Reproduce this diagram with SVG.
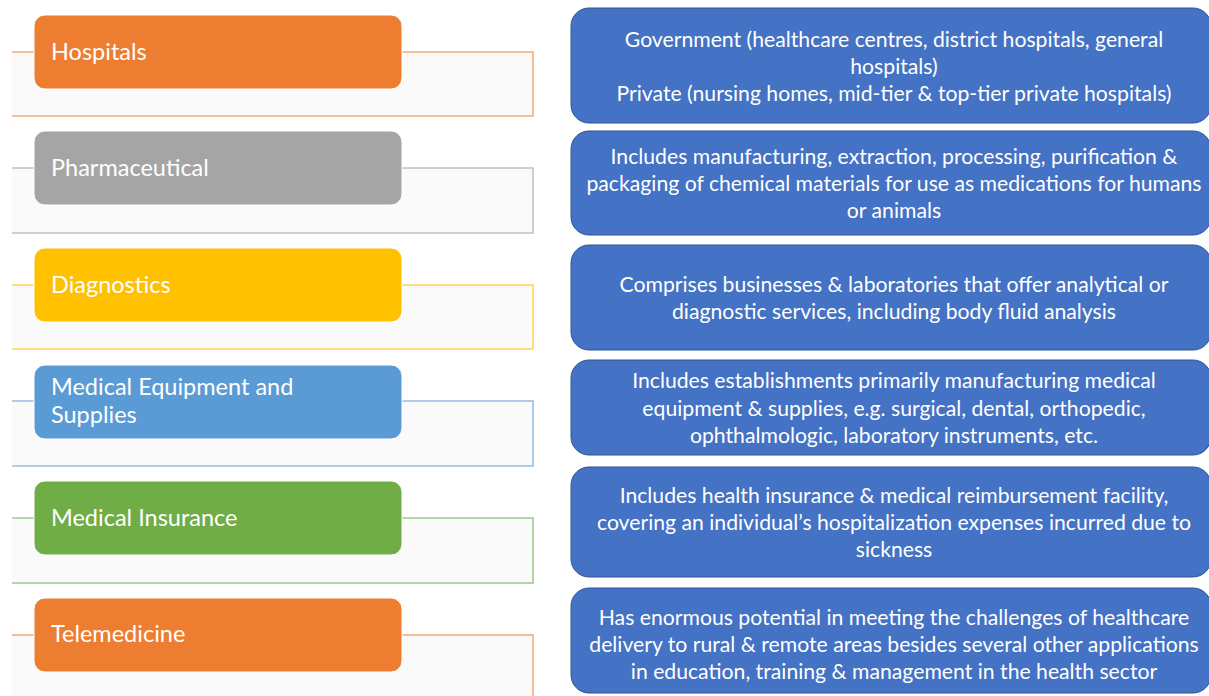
<svg xmlns="http://www.w3.org/2000/svg" width="1209" height="696" viewBox="0 0 1209 696">
<style>
.frame{fill:#fafafa;stroke-width:1.5}
.cat{stroke:#ffffff;stroke-width:1}
.cat-text{font-family:Lato,"Liberation Sans",sans-serif;font-size:23.5px;fill:#ffffff}
.desc{fill:#4472c4;stroke:#2f5597;stroke-width:1}
.desc-text{font-family:Lato,"Liberation Sans",sans-serif;font-size:21.2px;fill:#ffffff;text-anchor:middle}
</style>
<rect width="1209" height="696" fill="#ffffff"/>
<g id="connectors">
<path class="frame" stroke="#f4a874" d="M12,52 H533 V116 H12"/>
<path class="frame" stroke="#c0c0c0" d="M12,168 H533 V233 H12"/>
<path class="frame" stroke="#ffd452" d="M12,285 H533 V349 H12"/>
<path class="frame" stroke="#93bde4" d="M12,401 H533 V466 H12"/>
<path class="frame" stroke="#a0c985" d="M12,518 H533 V583 H12"/>
<path class="frame" stroke="#f4a874" d="M12,635 H533 V700 H12"/>
</g>
<g id="hospitals">
<rect class="cat" x="34" y="15" width="368" height="74" rx="11" fill="#ed7d31"/>
<text class="cat-text" x="51" y="60">Hospitals</text>
</g>
<g id="pharmaceutical">
<rect class="cat" x="34" y="131" width="368" height="74" rx="11" fill="#a5a5a5"/>
<text class="cat-text" x="51" y="176">Pharmaceutical</text>
</g>
<g id="diagnostics">
<rect class="cat" x="34" y="248" width="368" height="74" rx="11" fill="#ffc000"/>
<text class="cat-text" x="51" y="293">Diagnostics</text>
</g>
<g id="medical-equipment">
<rect class="cat" x="34" y="365" width="368" height="74" rx="11" fill="#5b9bd5"/>
<text class="cat-text" x="51" y="395">Medical Equipment and</text>
<text class="cat-text" x="51" y="423">Supplies</text>
</g>
<g id="medical-insurance">
<rect class="cat" x="34" y="481" width="368" height="74" rx="11" fill="#70ad47"/>
<text class="cat-text" x="51" y="526">Medical Insurance</text>
</g>
<g id="telemedicine">
<rect class="cat" x="34" y="598" width="368" height="74" rx="11" fill="#ed7d31"/>
<text class="cat-text" x="51" y="642">Telemedicine</text>
</g>
<g id="desc-hospitals">
<rect class="desc" x="571" y="8" width="640" height="115" rx="18"/>
<text class="desc-text" x="894" y="47">Government (healthcare centres, district hospitals, general</text>
<text class="desc-text" x="894" y="74">hospitals)</text>
<text class="desc-text" x="894" y="101">Private (nursing homes, mid-tier &amp; top-tier private hospitals)</text>
</g>
<g id="desc-pharmaceutical">
<rect class="desc" x="571" y="131" width="640" height="104" rx="18"/>
<text class="desc-text" x="894" y="164">Includes manufacturing, extraction, processing, purification &amp;</text>
<text class="desc-text" x="894" y="191">packaging of chemical materials for use as medications for humans</text>
<text class="desc-text" x="894" y="218">or animals</text>
</g>
<g id="desc-diagnostics">
<rect class="desc" x="571" y="245" width="640" height="105" rx="18"/>
<text class="desc-text" x="894" y="292">Comprises businesses &amp; laboratories that offer analytical or</text>
<text class="desc-text" x="894" y="319">diagnostic services, including body fluid analysis</text>
</g>
<g id="desc-medical-equipment">
<rect class="desc" x="571" y="360" width="640" height="95" rx="18"/>
<text class="desc-text" x="894" y="388">Includes establishments primarily manufacturing medical</text>
<text class="desc-text" x="894" y="416">equipment &amp; supplies, e.g. surgical, dental, orthopedic,</text>
<text class="desc-text" x="894" y="443">ophthalmologic, laboratory instruments, etc.</text>
</g>
<g id="desc-medical-insurance">
<rect class="desc" x="571" y="467" width="640" height="110" rx="18"/>
<text class="desc-text" x="894" y="503">Includes health insurance &amp; medical reimbursement facility,</text>
<text class="desc-text" x="894" y="530">covering an individual’s hospitalization expenses incurred due to</text>
<text class="desc-text" x="894" y="557">sickness</text>
</g>
<g id="desc-telemedicine">
<rect class="desc" x="571" y="588" width="640" height="105" rx="18"/>
<text class="desc-text" x="894" y="625">Has enormous potential in meeting the challenges of healthcare</text>
<text class="desc-text" x="894" y="652">delivery to rural &amp; remote areas besides several other applications</text>
<text class="desc-text" x="894" y="679">in education, training &amp; management in the health sector</text>
</g>
</svg>
